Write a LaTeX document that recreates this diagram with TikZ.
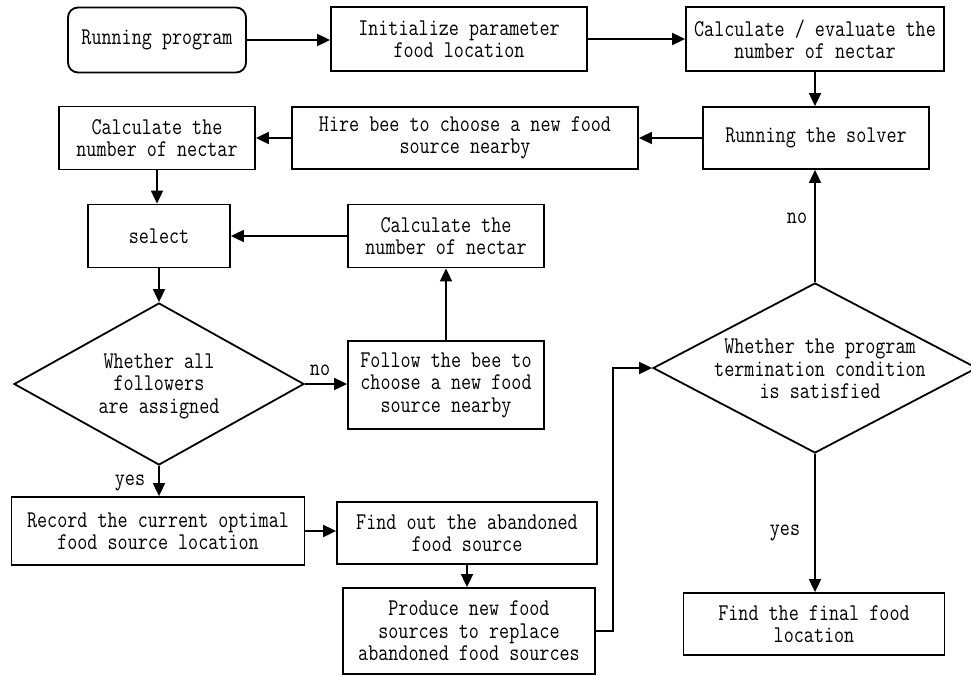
\documentclass[tikz,border=0pt]{standalone}
\usepackage{fontspec}
\newfontfamily\flowfont{Latin Modern Mono}[FakeStretch=0.815]
\usetikzlibrary{shapes.geometric,arrows.meta}
\begin{document}
\begin{tikzpicture}[x=1pt,y=-1pt,
  every node/.style={font=\flowfont\fontsize{24}{22.5}\selectfont},
  box/.style={draw,line width=1.8pt,rectangle,inner sep=0pt,align=center},
  rbox/.style={box,rounded corners=10pt},
  dec/.style={draw,line width=1.8pt,diamond,inner sep=0pt,align=center},
  lbl/.style={inner sep=0pt},
  arr/.style={line width=1.8pt,-{Triangle[length=13pt,width=12pt]}},
  ln/.style={line width=1.8pt}]
\useasboundingbox (0,0) rectangle (971,675);
\node[rbox,minimum width=178pt,minimum height=65pt] (n1) at (157,40) {Running program};
\node[box,minimum width=256pt,minimum height=64pt] (n2) at (459,39) {Initialize parameter\\food location};
\node[box,minimum width=258pt,minimum height=64pt] (n3) at (815,39) {Calculate / evaluate the\\number of nectar};
\node[box,minimum width=226pt,minimum height=62pt] (n4) at (816,138) {Running the solver};
\node[box,minimum width=346pt,minimum height=62pt] (n5) at (465,138) {Hire bee to choose a new food\\source nearby};
\node[box,minimum width=196pt,minimum height=63pt] (n6) at (157,138) {Calculate the\\number of nectar};
\node[box,minimum width=142pt,minimum height=63pt] (n7) at (159,236) {select};
\node[box,minimum width=196pt,minimum height=63pt] (n8) at (446,236) {Calculate the\\number of nectar};
\node[box,minimum width=196pt,minimum height=88pt] (n9) at (446,385) {Follow the bee to\\choose a new food\\source nearby};
\node[dec,minimum width=290pt,minimum height=162pt] (d1) at (159,384) {};
\node[lbl,align=center] (t1) at (159,386) {Whether all\\followers\\are assigned};
\node[box,minimum width=293pt,minimum height=68pt] (n10) at (158,531) {Record the current optimal\\food source location};
\node[box,minimum width=260pt,minimum height=62pt] (n11) at (467,533) {Find out the abandoned\\food source};
\node[box,minimum width=252pt,minimum height=86pt] (n12) at (469,631) {Produce new food\\sources to replace\\abandoned food sources};
\node[dec,minimum width=324pt,minimum height=170pt] (d2) at (815,368) {};
\node[lbl,align=center] (t2) at (820,369) {Whether the program\\termination condition\\is satisfied};
\node[box,minimum width=261pt,minimum height=62pt] (n13) at (814,624) {Find the final food\\location};
\node[lbl] (no1) at (320,370) {no};
\node[lbl] (yes1) at (130,483) {yes};
\node[lbl] (no2) at (797,218) {no};
\node[lbl] (yes2) at (785,533) {yes};
\draw[arr] (n1.east) -- (n1.east -| n2.west);
\draw[arr] (n2.east) -- (n2.east -| n3.west);
\draw[arr] (n3.south) -- (n3.south |- n4.north);
\draw[arr] (n4.west) -- (n4.west -| n5.east);
\draw[arr] (n5.west) -- (n5.west -| n6.east);
\draw[arr] (n6.south) -- (n6.south |- n7.north);
\draw[arr] (n8.west) -- (n8.west -| n7.east);
\draw[arr] (n9.north) -- (n9.north |- n8.south);
\draw[arr] (n7.south) -- (n7.south |- d1.north);
\draw[arr] (d1.east) -- (d1.east -| n9.west);
\draw[arr] (d1.south) -- (d1.south |- n10.north);
\draw[arr] (n10.east) -- (n10.east -| n11.west);
\draw[arr] (n11.south) -- (n11.south |- n12.north);
\coordinate (c1) at (613,631);
\draw[arr] (n12.east) -- (c1) |- (d2.west);
\draw[arr] (d2.north) -- (d2.north |- n4.south);
\draw[arr] (d2.south) -- (d2.south |- n13.north);
\end{tikzpicture}
\end{document}
